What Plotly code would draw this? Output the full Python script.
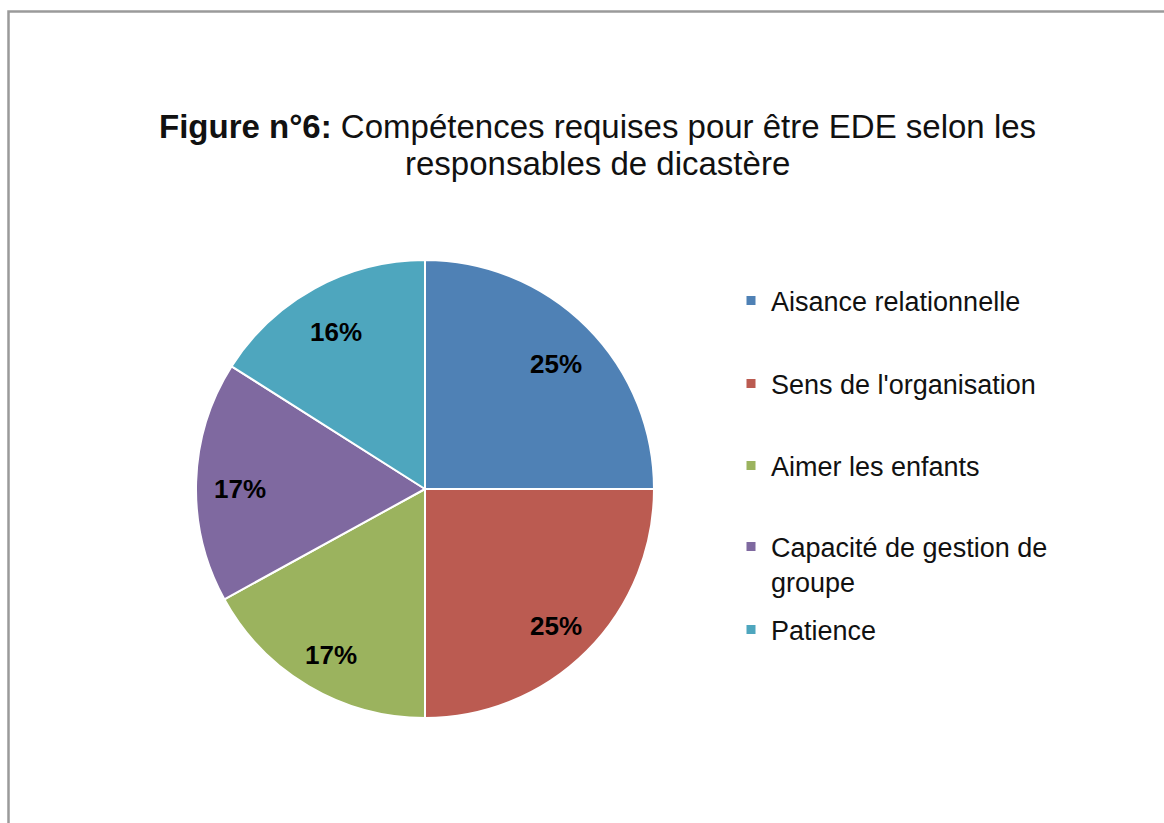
import math
import plotly.graph_objects as go

# Skills cited by department heads (share of answers, %)
categories = [
    "Aisance relationnelle",
    "Sens de l'organisation",
    "Aimer les enfants",
    "Capacité de gestion de groupe",
    "Patience",
]
legend_labels = [
    "Aisance relationnelle",
    "Sens de l'organisation",
    "Aimer les enfants",
    "Capacité de gestion de<br>groupe",
    "Patience",
]
shares = [25, 25, 17, 17, 16]
colors = ["#4F81B5", "#BB5B51", "#9BB35E", "#7F69A0", "#4EA6BE"]

title_lines = [
    "<b>Figure n°6:</b> Compétences requises pour être EDE selon les",
    "responsables de dicastère",
]

W, H = 1164, 823
FONT = "Liberation Sans, Arial, Helvetica, sans-serif"

# Pie geometry (pixels)
CX, CY, R = 425, 489, 229

fig = go.Figure()

fig.add_trace(go.Pie(
    labels=categories,
    values=shares,
    sort=False,
    direction="clockwise",
    rotation=0,
    marker=dict(colors=colors, line=dict(color="white", width=2)),
    textinfo="none",
    domain=dict(x=[(CX - R) / W, (CX + R) / W], y=[1 - (CY + R) / H, 1 - (CY - R) / H]),
    showlegend=False,
    hoverinfo="label+percent",
))

# Percentage labels placed near the outer part of each slice, at the slice's mid-angle
annotations = []
total = sum(shares)
acc = 0.0
for v in shares:
    mid = (acc + v / 2) / total * 2 * math.pi
    acc += v
    px = CX + 0.81 * R * math.sin(mid)
    py = CY - 0.81 * R * math.cos(mid)
    annotations.append(dict(
        text=f"<b>{v}%</b>", xref="paper", yref="paper",
        x=px / W, y=1 - (py + 6) / H, xanchor="center", yanchor="middle",
        showarrow=False, font=dict(family=FONT, size=26, color="black"),
    ))

# Two-line title
for line, yc in zip(title_lines, [127, 163]):
    annotations.append(dict(
        text=line, xref="paper", yref="paper",
        x=597 / W, y=1 - yc / H, xanchor="center", yanchor="middle",
        showarrow=False, font=dict(family=FONT, size=33, color="#111111"),
    ))

# Legend entries, one legend box per category so each row sits on its own line
legend_rows = [301, 384, 466, 548 + 16.5, 630]
layout_legends = {}
for i, (lab, col, row) in enumerate(zip(legend_labels, colors, legend_rows)):
    name = "legend" if i == 0 else f"legend{i + 1}"
    fig.add_trace(go.Scatter(
        x=[None], y=[None], mode="markers", name=lab,
        marker=dict(symbol="square", size=9, color=col),
        legend=name, showlegend=True,
    ))
    layout_legends[name] = dict(
        x=731 / W, xanchor="left",
        y=1 - row / H, yanchor="middle",
        valign="top",
        itemwidth=30,
        bgcolor="rgba(0,0,0,0)",
        font=dict(family=FONT, size=27, color="#111111"),
    )

fig.update_layout(
    width=W, height=H,
    margin=dict(l=0, r=0, t=0, b=0),
    paper_bgcolor="white",
    plot_bgcolor="white",
    xaxis=dict(visible=False),
    yaxis=dict(visible=False),
    annotations=annotations,
    shapes=[dict(
        type="rect", xref="paper", yref="paper",
        x0=8.5 / W, x1=1.05, y0=-0.05, y1=1 - 11.5 / H,
        line=dict(color="#9a9a9a", width=2.5),
        fillcolor="rgba(0,0,0,0)",
        layer="below",
    )],
    **layout_legends,
)

fig.write_html("out.html")
